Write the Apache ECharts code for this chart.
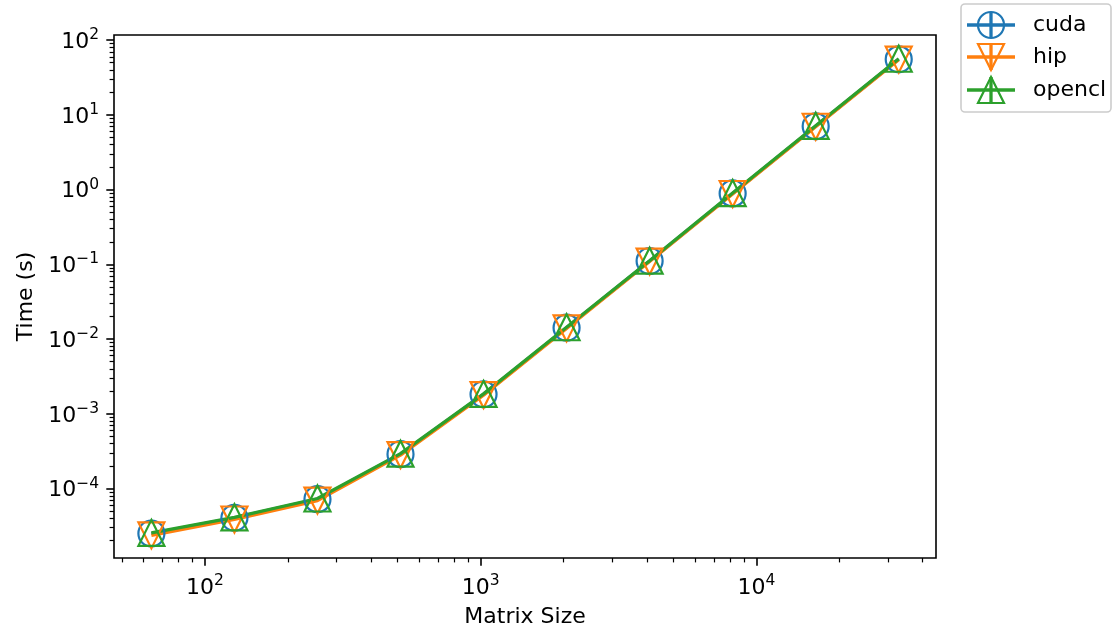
<!DOCTYPE html>
<html>
<head>
<meta charset="utf-8">
<script src="https://cdn.jsdelivr.net/npm/echarts@6/dist/echarts.min.js"></script>
<style>
  html, body { margin: 0; padding: 0; background: #ffffff; }
  #chart { width: 1113px; height: 634px; }
</style>
</head>
<body>
<div id="chart"></div>
<script>
// Matrix sizes (N for an N x N matrix)
const sizes = [64, 128, 256, 512, 1024, 2048, 4096, 8192, 16384, 32768];

// Run times in seconds for each backend
const cuda   = [2.50e-5, 4.05e-5, 7.20e-5, 2.88e-4, 1.82e-3, 1.42e-2, 0.111, 0.890, 7.05, 55.5];
const hip    = [2.36e-5, 3.85e-5, 6.90e-5, 2.80e-4, 1.78e-3, 1.39e-2, 0.109, 0.875, 6.95, 55.0];
const opencl = [2.55e-5, 4.12e-5, 7.35e-5, 2.93e-4, 1.85e-3, 1.44e-2, 0.112, 0.900, 7.15, 56.5];

// Axis extents and tick positions
const xRange = [46.84, 44730];
const yRange = [1.175e-5, 117.5];
const xMajor = [1e2, 1e3, 1e4];
const yMajor = [1e-4, 1e-3, 1e-2, 1e-1, 1e0, 1e1, 1e2];

function minorTicks(lo, hi) {
  const out = [];
  for (let e = Math.floor(Math.log10(lo)); e <= Math.ceil(Math.log10(hi)); e++) {
    for (let m = 2; m <= 9; m++) {
      const v = m * Math.pow(10, e);
      if (v > lo && v < hi) out.push(v);
    }
  }
  return out;
}
const xMinor = minorTicks(xRange[0], xRange[1]);
const yMinor = minorTicks(yRange[0], yRange[1]);

const FONT = 'DejaVu Sans';
const C_BLUE = '#1f77b4', C_ORANGE = '#ff7f0e', C_GREEN = '#2ca02c';

function powLabel(v) {
  const e = Math.round(Math.log10(v));
  const s = String(e).replace('-', '\u2212');
  return '{b|10}{s|' + s + '}';
}
const richPow = {
  b: { fontSize: 22, fontFamily: FONT, color: '#000', verticalAlign: 'bottom', lineHeight: 24 },
  s: { fontSize: 15.5, fontFamily: FONT, color: '#000', verticalAlign: 'bottom', padding: [0, 0, 10, 0] }
};

function series(name, data, color, symbol, rotate) {
  return {
    name: name,
    type: 'line',
    xAxisIndex: 0, yAxisIndex: 0,
    data: sizes.map((s, i) => [s, data[i]]),
    symbol: symbol,
    symbolSize: 26,
    symbolRotate: rotate || 0,
    showAllSymbol: true,
    lineStyle: { color: color, width: 3.3 },
    itemStyle: { color: 'rgba(0,0,0,0)', borderColor: color, borderWidth: 2.2 },
    emphasis: { disabled: true },
    animation: false,
    clip: false
  };
}

// Legend entries drawn as graphic elements (line + marker + vertical error bar)
function legendEntry(label, y, color, kind) {
  const cx = 991, h = 13;
  const items = [
    { type: 'line', shape: { x1: 967, y1: y, x2: 1015, y2: y }, style: { stroke: color, lineWidth: 3.3 } }
  ];
  if (kind === 'circle') {
    items.push({ type: 'circle', shape: { cx: cx, cy: y, r: h }, style: { fill: null, stroke: color, lineWidth: 2.2 } });
  } else if (kind === 'down') {
    items.push({ type: 'polygon', shape: { points: [[cx - h, y - h], [cx + h, y - h], [cx, y + h]] }, style: { fill: null, stroke: color, lineWidth: 2.2 } });
  } else {
    items.push({ type: 'polygon', shape: { points: [[cx, y - h], [cx - h, y + h], [cx + h, y + h]] }, style: { fill: null, stroke: color, lineWidth: 2.2 } });
  }
  items.push({ type: 'line', shape: { x1: cx, y1: y - h, x2: cx, y2: y + h }, style: { stroke: color, lineWidth: 3.3 } });
  items.push({ type: 'text', style: { x: 1033, y: y, text: label, font: '22px "DejaVu Sans"', fill: '#000', textVerticalAlign: 'middle' } });
  return items;
}

const chart = echarts.init(document.getElementById('chart'), null, { renderer: 'canvas' });

const baseX = { type: 'log', logBase: 10, min: xRange[0], max: xRange[1], gridIndex: 0, position: 'bottom' };
const baseY = { type: 'log', logBase: 10, min: yRange[0], max: yRange[1], gridIndex: 0, position: 'left' };

chart.setOption({
  animation: false,
  backgroundColor: '#ffffff',
  grid: {
    left: 114, right: 1113 - 936, top: 35, bottom: 634 - 558,
    show: true, borderColor: '#000', borderWidth: 1.6, backgroundColor: 'transparent'
  },
  xAxis: [
    Object.assign({}, baseX, {
      name: 'Matrix Size', nameLocation: 'middle', nameGap: 48,
      nameTextStyle: { fontSize: 22, fontFamily: FONT, color: '#000' },
      axisLine: { show: false },
      axisTick: { show: true, length: 7.7, lineStyle: { color: '#000', width: 1.6 }, customValues: xMajor },
      axisLabel: { show: true, margin: 15, formatter: powLabel, rich: richPow, customValues: xMajor },
      splitLine: { show: false }, minorTick: { show: false }
    }),
    Object.assign({}, baseX, {
      axisLine: { show: false },
      axisTick: { show: true, length: 4.4, lineStyle: { color: '#000', width: 1.2 }, customValues: xMinor },
      axisLabel: { show: false },
      splitLine: { show: false }
    })
  ],
  yAxis: [
    Object.assign({}, baseY, {
      name: 'Time (s)', nameLocation: 'middle', nameGap: 77, nameRotate: 90,
      nameTextStyle: { fontSize: 22, fontFamily: FONT, color: '#000' },
      axisLine: { show: false },
      axisTick: { show: true, length: 7.7, lineStyle: { color: '#000', width: 1.6 }, customValues: yMajor },
      axisLabel: { show: true, margin: 15, formatter: powLabel, rich: richPow, customValues: yMajor },
      splitLine: { show: false }, minorTick: { show: false }
    }),
    Object.assign({}, baseY, {
      axisLine: { show: false },
      axisTick: { show: true, length: 4.4, lineStyle: { color: '#000', width: 1.2 }, customValues: yMinor },
      axisLabel: { show: false },
      splitLine: { show: false }
    })
  ],
  series: [
    series('cuda', cuda, C_BLUE, 'circle', 0),
    series('hip', hip, C_ORANGE, 'triangle', 180),
    series('opencl', opencl, C_GREEN, 'triangle', 0)
  ],
  graphic: [
    {
      type: 'group',
      children: [
        { type: 'rect', shape: { x: 961, y: 4, width: 150, height: 108, r: 4 },
          style: { fill: 'rgba(255,255,255,0.8)', stroke: '#cccccc', lineWidth: 1.6 } }
      ]
        .concat(legendEntry('cuda', 25, C_BLUE, 'circle'))
        .concat(legendEntry('hip', 57, C_ORANGE, 'down'))
        .concat(legendEntry('opencl', 90, C_GREEN, 'up'))
    }
  ]
});
</script>
</body>
</html>
